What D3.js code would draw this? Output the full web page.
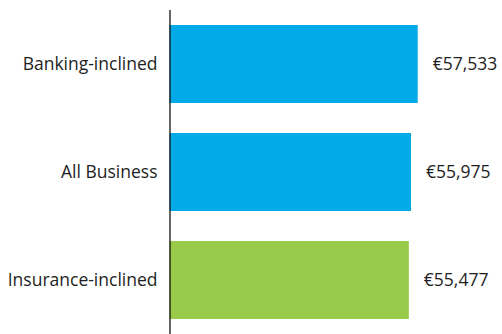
<!DOCTYPE html>
<html>
<head>
<meta charset="utf-8">
<script src="https://cdn.jsdelivr.net/npm/d3@7"></script>
<style>
  body { margin: 0; background: #fff; }
  svg { display: block; }
</style>
</head>
<body>
<div id="chart"></div>
<script>
// Average value per segment
const categories = ["Banking-inclined", "All Business", "Insurance-inclined"];
const values = [57533, 55975, 55477];
const barColors = ["#00ABE7", "#00ABE7", "#99CA4A"];

const width = 502;
const height = 334;
const margin = { top: 10, right: 84, bottom: 0, left: 169.5 };

const svg = d3.select("#chart")
    .append("svg")
    .attr("width", width)
    .attr("height", height);

const y = d3.scaleBand()
    .domain(categories)
    .range([margin.top, height - margin.bottom])
    .paddingInner(0.278)
    .paddingOuter(0.139);

const x = d3.scaleLinear()
    .domain([0, d3.max(values)])
    .range([margin.left, 417.7]);

const fontFamily = "'Open Sans', 'DejaVu Sans', sans-serif";

// Bars
svg.selectAll("rect.bar")
    .data(values)
    .join("rect")
    .attr("class", "bar")
    .attr("x", x(0))
    .attr("y", (d, i) => y(categories[i]))
    .attr("width", d => x(d) - x(0))
    .attr("height", y.bandwidth())
    .attr("fill", (d, i) => barColors[i]);

// Value labels
svg.selectAll("text.value")
    .data(values)
    .join("text")
    .attr("class", "value")
    .attr("x", d => x(d) + 15)
    .attr("y", (d, i) => y(categories[i]) + y.bandwidth() / 2)
    .attr("dy", "0.35em")
    .style("font-family", fontFamily)
    .style("font-size", "17.5px")
    .style("fill", "#1e1e1e")
    .text(d => "€" + d3.format(",")(d));

// Category axis
const axis = svg.append("g")
    .attr("transform", `translate(${margin.left},0)`)
    .call(d3.axisLeft(y).tickSize(0).tickPadding(12));

axis.select(".domain")
    .attr("d", `M0.5,${margin.top}V${height}`)
    .attr("stroke", "#111")
    .attr("stroke-width", 1.3);

axis.selectAll("text")
    .style("font-family", fontFamily)
    .style("font-size", "17.5px")
    .style("fill", "#1e1e1e");
</script>
</body>
</html>
